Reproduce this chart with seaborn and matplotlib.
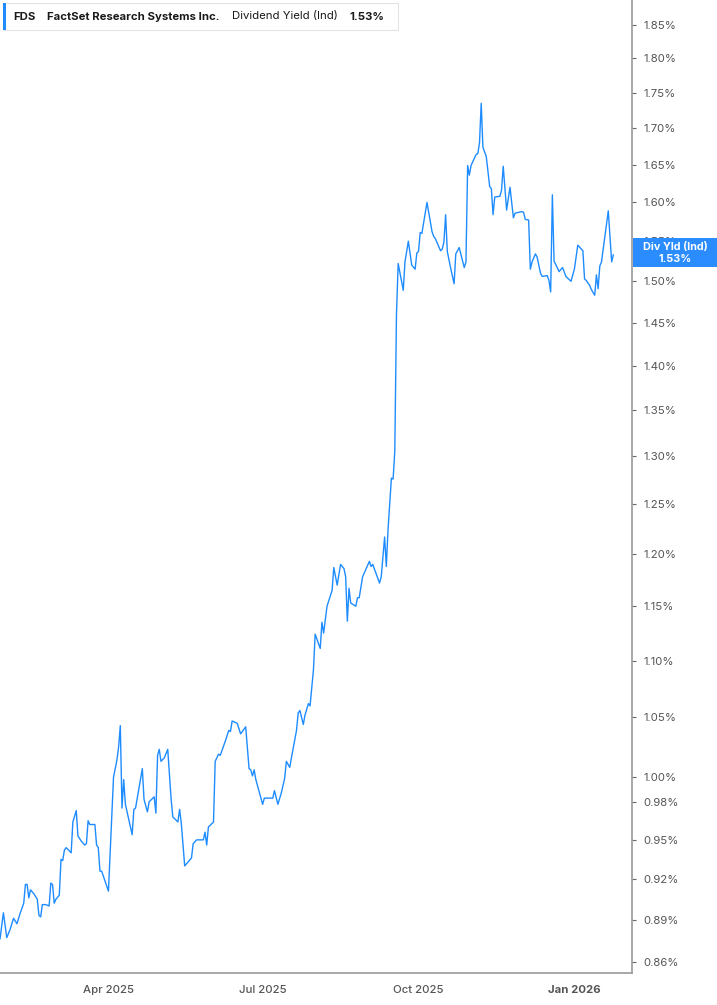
import numpy as np
import pandas as pd
import matplotlib
matplotlib.use("Agg")
import matplotlib.pyplot as plt
import seaborn as sns
from matplotlib.patches import Rectangle
from matplotlib.ticker import FixedLocator, FuncFormatter, NullLocator

# ---------------- data ----------------
base_date = "2025-01-27"
day_offsets = [
    0, 2, 4, 6, 8, 10, 12, 14, 15, 16, 17, 18, 20, 22, 23, 24, 25, 27, 29, 30,
    31, 32, 33, 35, 36, 37, 38, 39, 42, 43, 45, 46, 48, 50, 51, 52, 53, 54, 56, 57,
    58, 59, 60, 64, 67, 69, 70, 71, 72, 73, 74, 76, 78, 79, 80, 82, 84, 85, 87, 88,
    91, 92, 93, 94, 95, 97, 99, 101, 102, 105, 106, 107, 109, 111, 113, 114, 116, 120, 121, 122,
    123, 126, 127, 129, 130, 133, 135, 136, 137, 140, 142, 145, 147, 148, 149, 150, 151, 155, 156, 161,
    162, 164, 166, 168, 169, 171, 172, 175, 176, 177, 179, 180, 182, 183, 185, 186, 189, 190, 191, 193,
    196, 197, 199, 201, 203, 204, 205, 206, 207, 210, 211, 212, 214, 218, 219, 220, 224, 225, 227, 228,
    229, 231, 232, 233, 234, 235, 238, 239, 241, 243, 245, 246, 247, 248, 249, 252, 255, 256, 257, 260,
    261, 262, 263, 264, 266, 268, 269, 271, 274, 275, 276, 277, 278, 281, 282, 283, 284, 285, 287, 289,
    290, 291, 292, 295, 296, 297, 299, 301, 303, 304, 308, 309, 310, 312, 313, 314, 316, 317, 319, 320,
    323, 324, 325, 326, 327, 330, 332, 334, 337, 339, 341, 344, 345, 346, 348, 349, 351, 352, 353, 354,
    355, 359, 360, 361, 362,
]
div_yield = [
    0.876, 0.895, 0.877, 0.883, 0.891, 0.887, 0.895, 0.902, 0.916, 0.916, 0.906, 0.912, 0.909, 0.905, 0.893, 0.892, 0.901, 0.901, 0.900, 0.917,
    0.916, 0.902, 0.905, 0.908, 0.935, 0.934, 0.942, 0.944, 0.940, 0.964, 0.973, 0.953, 0.949, 0.946, 0.947, 0.965, 0.962, 0.962, 0.962, 0.946,
    0.944, 0.926, 0.926, 0.911, 1.000, 1.014, 1.025, 1.043, 0.975, 0.998, 0.978, 0.966, 0.954, 0.974, 0.975, 0.991, 1.007, 0.982, 0.972, 0.980,
    0.984, 0.971, 1.018, 1.023, 1.013, 1.016, 1.023, 0.982, 0.968, 0.964, 0.974, 0.963, 0.930, 0.933, 0.936, 0.947, 0.950, 0.950, 0.956, 0.946,
    0.960, 0.964, 1.013, 1.019, 1.018, 1.030, 1.039, 1.038, 1.047, 1.045, 1.036, 1.042, 1.007, 1.006, 1.001, 1.006, 0.998, 0.978, 0.983, 0.983,
    0.989, 0.978, 0.987, 0.999, 1.013, 1.008, 1.016, 1.039, 1.054, 1.056, 1.044, 1.052, 1.062, 1.060, 1.092, 1.124, 1.111, 1.135, 1.125, 1.150,
    1.165, 1.187, 1.170, 1.190, 1.186, 1.178, 1.136, 1.167, 1.153, 1.150, 1.158, 1.158, 1.178, 1.193, 1.188, 1.190, 1.172, 1.178, 1.217, 1.188,
    1.224, 1.277, 1.276, 1.305, 1.461, 1.522, 1.489, 1.524, 1.550, 1.520, 1.515, 1.535, 1.537, 1.561, 1.560, 1.600, 1.562, 1.556, 1.553, 1.538,
    1.540, 1.549, 1.584, 1.537, 1.516, 1.497, 1.534, 1.542, 1.517, 1.524, 1.649, 1.636, 1.649, 1.664, 1.665, 1.680, 1.735, 1.674, 1.661, 1.621,
    1.618, 1.584, 1.607, 1.608, 1.616, 1.648, 1.590, 1.620, 1.580, 1.586, 1.588, 1.587, 1.578, 1.577, 1.515, 1.524, 1.534, 1.530, 1.510, 1.506,
    1.507, 1.501, 1.487, 1.610, 1.525, 1.512, 1.517, 1.506, 1.500, 1.515, 1.545, 1.538, 1.503, 1.501, 1.495, 1.490, 1.483, 1.508, 1.491, 1.519,
    1.524, 1.589, 1.557, 1.524, 1.533,
]
ytick_values = [0.86, 0.89, 0.92, 0.95, 0.98, 1.00, 1.05, 1.10, 1.15, 1.20, 1.25, 1.30,
                1.35, 1.40, 1.45, 1.50, 1.55, 1.60, 1.65, 1.70, 1.75, 1.80, 1.85]
xtick_dates = ["2025-04-01", "2025-07-01", "2025-10-01", "2026-01-01"]
xtick_labels = ["Apr 2025", "Jul 2025", "Oct 2025", "Jan 2026"]
ticker_symbol = "FDS"
company_name = "FactSet Research Systems Inc."
series_name = "Dividend Yield (Ind)"
last_value_text = "1.53%"
badge_name = "Div Yld (Ind)"

# ---------------- figure ----------------
sns.set_theme(style="white")
plt.rcParams["font.family"] = ["Inter", "DejaVu Sans"]

W, H = 717, 1005
fig = plt.figure(figsize=(W / 100, H / 100), dpi=100)
ax = fig.add_axes([0, 32 / H, 632 / W, 973 / H])

dates = pd.Timestamp(base_date) + pd.to_timedelta(day_offsets, unit="D")
df = pd.DataFrame({"date": dates, "yield": div_yield})
line_color = "#1E8CFF"
sns.lineplot(data=df, x="date", y="yield", ax=ax, color=line_color, linewidth=1.0)

ax.set_yscale("log")
ax.set_ylim(0.852, 1.888)
ax.yaxis.set_major_locator(FixedLocator(ytick_values))
ax.yaxis.set_minor_locator(NullLocator())
ax.yaxis.set_major_formatter(FuncFormatter(lambda v, p: f"{v:.2f}%"))
ax.set_xlim(pd.Timestamp(base_date), pd.Timestamp(base_date) + pd.Timedelta(days=373))
ax.set_xticks(pd.to_datetime(xtick_dates))
ax.set_xticklabels(xtick_labels)
for lbl in ax.get_xticklabels():
    if lbl.get_text().startswith("Jan"):
        lbl.set_fontweight("bold")
        lbl.set_fontsize(9.5)
        lbl.set_color("#333333")
    else:
        lbl.set_fontweight("medium")

ax.set_xlabel("")
ax.set_ylabel("")
ax.grid(False)
for s in ["top", "left"]:
    ax.spines[s].set_visible(False)
for s in ["right", "bottom"]:
    ax.spines[s].set_color("#a0a0a0")
    ax.spines[s].set_linewidth(1.3)

ax.yaxis.tick_right()
ax.tick_params(axis="y", which="major", direction="out", length=3, width=0.8,
               color="#666666", labelsize=8.2, labelcolor="#555555", pad=5)
ax.tick_params(axis="x", which="major", direction="out", length=5, width=0.8,
               color="#999999", labelsize=8.2, labelcolor="#555555", pad=3.5)


def fx(px):
    return px / W


def fy(py):
    return 1 - py / H


# legend box top-left
fig.patches.append(Rectangle((fx(3), fy(30)), 395 / W, 27 / H, transform=fig.transFigure,
                             facecolor="white", edgecolor="#e3e3e3", linewidth=0.8, zorder=5))
fig.patches.append(Rectangle((fx(3), fy(30)), 3 / W, 27 / H, transform=fig.transFigure,
                             facecolor=line_color, edgecolor="none", zorder=6))
ty = fy(16.5)
lfs = 8.2
fig.text(fx(13), ty, ticker_symbol, fontsize=lfs, fontweight="bold", color="#1a1a1a", va="center", zorder=7)
fig.text(fx(47), ty, company_name, fontsize=lfs, fontweight="bold", color="#1a1a1a", va="center", zorder=7)
fig.text(fx(232), ty, series_name, fontsize=lfs, color="#1a1a1a", va="center", zorder=7)
fig.text(fx(349), ty, last_value_text, fontsize=lfs, fontweight="bold", color="#1a1a1a", va="center", zorder=7)

# last value badge on the right axis
fig.patches.append(Rectangle((fx(633), fy(267)), 84 / W, 29 / H, transform=fig.transFigure,
                             facecolor="#2A8CFF", edgecolor="none", zorder=5))
fig.text(fx(675), fy(247), badge_name, fontsize=7.8, fontweight="bold", color="white",
         ha="center", va="center", zorder=7)
fig.text(fx(675), fy(258.5), last_value_text, fontsize=7.8, fontweight="bold", color="white",
         ha="center", va="center", zorder=7)

fig.savefig("out.png", dpi=100, facecolor="white")
